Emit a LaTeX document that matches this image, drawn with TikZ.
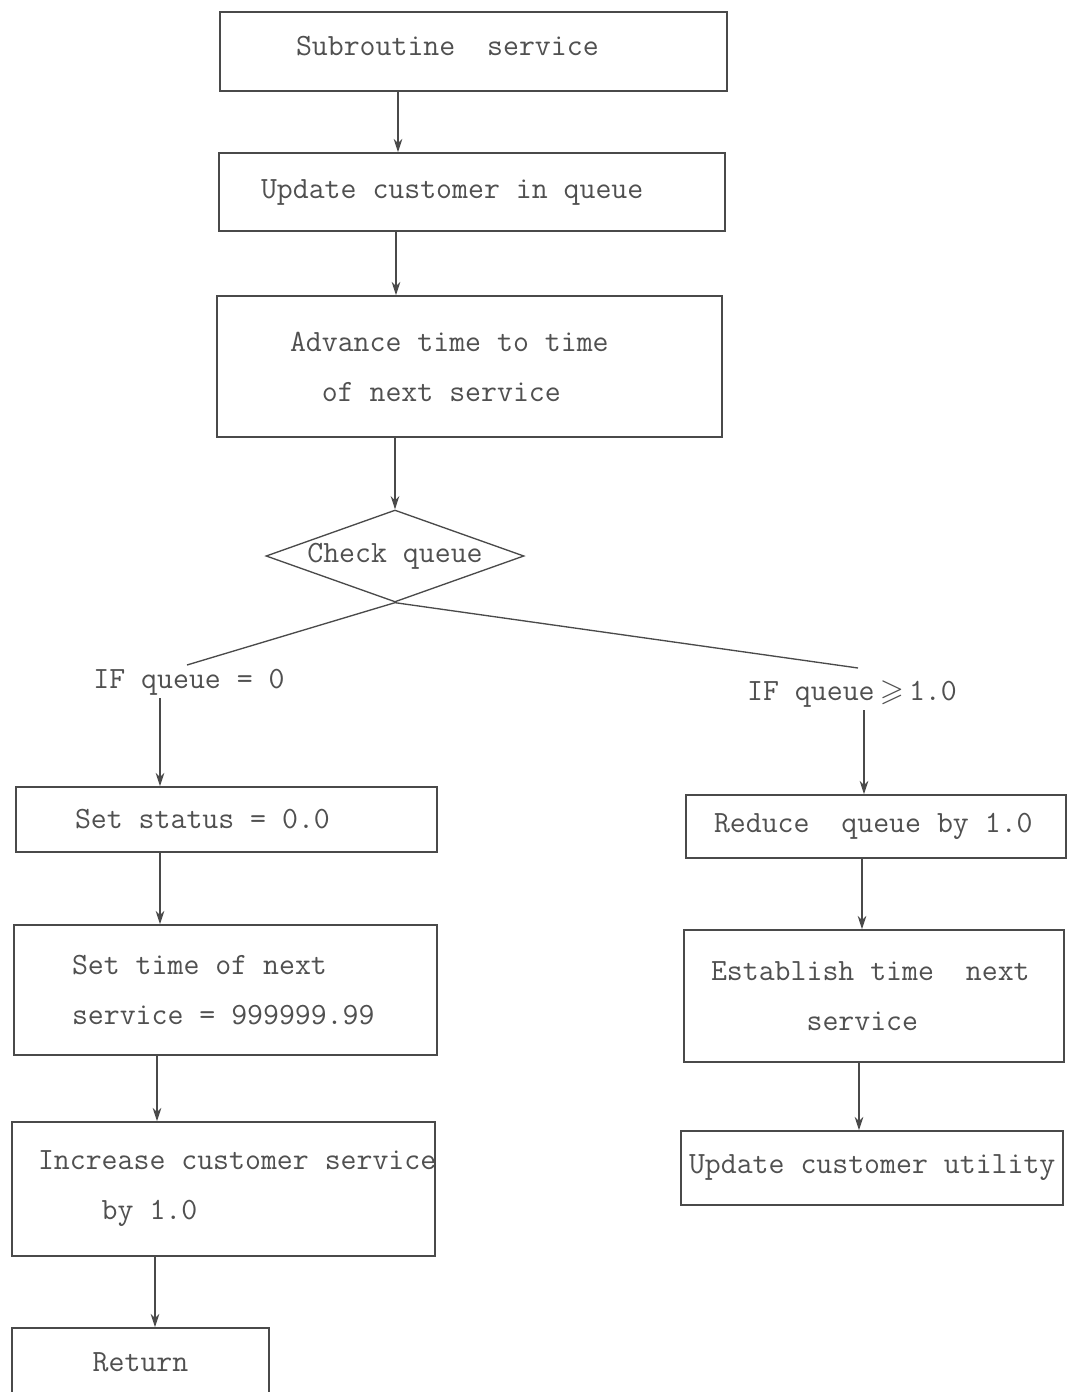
\documentclass[tikz,border=0pt]{standalone}
\usepackage{fontspec}
\usepackage{amssymb}
\usetikzlibrary{shapes.geometric,arrows.meta}
\newdimen\pxu
\pxu=0.75pt
\definecolor{ink}{HTML}{4A4A4A}
\definecolor{txt}{HTML}{505050}
\newcommand{\tfont}{\ttfamily\fontsize{23.2}{37.5}\selectfont}
\newcommand{\nsp}{\spaceskip=0pt\xspaceskip=0pt\relax}
\begin{document}
\begin{tikzpicture}[x=0.75pt,y=-0.75pt,
  box/.style={draw=ink, line width=1.2pt, rectangle, inner ysep=0pt, align=left, font=\tfont, text=txt},
  cbox/.style={draw=ink, line width=1.2pt, rectangle, inner sep=0pt, align=center, font=\tfont, text=txt},
  lbl/.style={inner sep=2pt, font=\tfont, text=txt},
  conn/.style={draw=ink, line width=1pt},
  arr/.style={conn, -{Stealth[length=10pt,width=6.5pt]}}]
\clip (0,0) rectangle (1068,1392);
\fill[white] (0,0) rectangle (1068,1392);

% main column
\node[box, minimum width=507\pxu, minimum height=79\pxu, inner xsep=76\pxu, text width=355\pxu, text depth=12\pxu] (b1) at (473.5,51.5) {\nsp\mbox{Subroutine~~service}};
\node[box, minimum width=506\pxu, minimum height=78\pxu, inner xsep=42\pxu, text width=422\pxu] (b2) at (472,192) {\nsp\mbox{Update customer in queue}};
\node[box, minimum width=505\pxu, minimum height=141\pxu, inner xsep=73\pxu, text width=359\pxu] (b3) at (469.5,366.5) {\nsp\mbox{Advance time to time}\\\mbox{\phantom{xx}of next service}};
\node[draw=ink, line width=1pt, shape=diamond, aspect=2.8, minimum width=258\pxu, minimum height=92\pxu, inner sep=0pt, font=\tfont, text=txt] (chk) at (395,556) {Check queue};

% branch labels
\node[lbl] (ifzero) at (189,682) {IF queue = 0};
\node[lbl] (ifone) at (852,694) {IF queue\,$\geqslant$\,1.0};
\coordinate (lend) at (187,665);
\coordinate (rend) at (858,668);

% left column
\node[box, minimum width=421\pxu, minimum height=65\pxu, inner xsep=59\pxu, text width=303\pxu] (b4) at (226.5,819.5) {\nsp\mbox{Set status = 0.0}};
\node[box, minimum width=423\pxu, minimum height=130\pxu, inner xsep=58\pxu, text width=307\pxu] (b5) at (225.5,990) {\nsp\mbox{Set time of next}\\\mbox{service = 999999.99}};
\node[box, minimum width=423\pxu, minimum height=134\pxu, inner xsep=26\pxu, text width=371\pxu] (b6) at (223.5,1189) {\nsp\mbox{Increase customer service}\\\mbox{\phantom{xxxx}by 1.0}};
\node[cbox, minimum width=257\pxu, minimum height=68\pxu] (b7) at (140.5,1362) {Return};

% right column
\node[box, minimum width=380\pxu, minimum height=63\pxu, inner xsep=28\pxu, text width=324\pxu] (r1) at (876,826.5) {\nsp\mbox{Reduce~~queue by 1.0}};
\node[box, minimum width=380\pxu, minimum height=132\pxu, inner xsep=27\pxu, text width=326\pxu] (r2) at (874,996) {\nsp\mbox{Establish time~~next}\\\mbox{\phantom{xxxxxx}service}};
\node[box, minimum width=382\pxu, minimum height=74\pxu, inner xsep=8\pxu, text width=366\pxu] (r3) at (872,1168) {\nsp\mbox{Update customer utility}};

% arrow columns
\coordinate (a1) at (398,0);
\coordinate (a2) at (396,0);
\coordinate (a3) at (395,0);
\coordinate (a4) at (160,0);
\coordinate (a5) at (160,0);
\coordinate (a6) at (157,0);
\coordinate (a7) at (155,0);
\coordinate (a8) at (864,0);
\coordinate (a9) at (862,0);
\coordinate (a10) at (859,0);

\draw[arr] (b1.south -| a1) -- (b2.north -| a1);
\draw[arr] (b2.south -| a2) -- (b3.north -| a2);
\draw[arr] (b3.south -| a3) -- (chk.north);
\draw[conn] (chk.south) -- (lend);
\draw[conn] (chk.south) -- (rend);
\draw[arr] (ifzero.south -| a4) -- (b4.north -| a4);
\draw[arr] (b4.south -| a5) -- (b5.north -| a5);
\draw[arr] (b5.south -| a6) -- (b6.north -| a6);
\draw[arr] (b6.south -| a7) -- (b7.north -| a7);
\draw[arr] (ifone.south -| a8) -- (r1.north -| a8);
\draw[arr] (r1.south -| a9) -- (r2.north -| a9);
\draw[arr] (r2.south -| a10) -- (r3.north -| a10);
\end{tikzpicture}
\end{document}
